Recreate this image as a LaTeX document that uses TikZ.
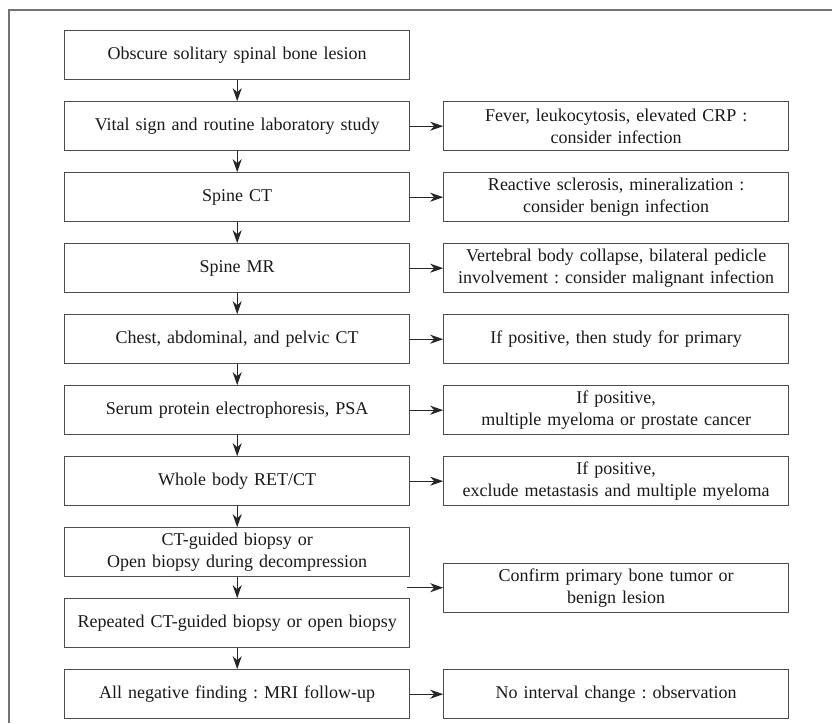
\documentclass[tikz,border=0pt]{standalone}
\usepackage{fontspec}
\setmainfont{Liberation Serif}
\usetikzlibrary{matrix,positioning,arrows.meta,calc}

\tikzset{
  box/.style={draw=black!70, line width=1pt, text width=339pt, inner xsep=3pt,
    inner ysep=2pt, minimum height=49pt, align=center, anchor=center,
    font=\fontsize{18}{22}\selectfont\frenchspacing, text=black!90},
  flow/.style={-{Stealth[length=13pt,width=9pt,inset=4pt]}, line width=1.2pt, black!85}
}

\begin{document}
\begin{tikzpicture}[x=1pt, y=-1pt]
  \useasboundingbox (0,0) rectangle (832,723);
  \draw[black!55, line width=1.5pt] (9,723) -- (9,10) -- (832,10);
  \matrix (m) [matrix of nodes, row sep=21pt, column sep=33pt, inner sep=0pt,
    nodes={box}, anchor=north west] at (64,30)
  {
  Obscure solitary spinal bone lesion & \\
  Vital sign and routine laboratory study & {Fever, leukocytosis, elevated CRP :\\ consider infection} \\
  Spine CT & {Reactive sclerosis, mineralization :\\ consider benign infection} \\
  Spine MR & {Vertebral body collapse, bilateral pedicle\\ involvement : consider malignant infection} \\
  {Chest, abdominal, and pelvic CT} & If positive, then study for primary \\
  {Serum protein electrophoresis, PSA} & {If positive,\\ multiple myeloma or prostate cancer} \\
  Whole body RET/CT & {If positive,\\ exclude metastasis and multiple myeloma} \\
  {CT-guided biopsy or\\ Open biopsy during decompression} & \\
  {Repeated CT-guided biopsy or open biopsy} & \\
  {All negative finding : MRI follow-up} & No interval change : observation \\
  };
  % biopsy result goes to the side
  \coordinate (bx) at ($(m-8-1.south east)!0.5!(m-9-1.north east)+(-3,0)$);
  \node[box, anchor=west] (conf) at ($(bx)+(36,0)$)
    {Confirm primary bone tumor or\\ benign lesion};
  \path[flow]
  (m-1-1) edge (m-2-1)
  (m-2-1) edge (m-3-1)
          edge (m-2-2)
  (m-3-1) edge (m-4-1)
          edge (m-3-2)
  (m-4-1) edge (m-5-1)
          edge (m-4-2)
  (m-5-1) edge (m-6-1)
          edge (m-5-2)
  (m-6-1) edge (m-7-1)
          edge (m-6-2)
  (m-7-1) edge (m-8-1)
          edge (m-7-2)
  (m-8-1) edge (m-9-1)
  (m-9-1) edge (m-10-1)
  (m-10-1) edge (m-10-2)
  (bx) edge (conf);
\end{tikzpicture}
\end{document}
